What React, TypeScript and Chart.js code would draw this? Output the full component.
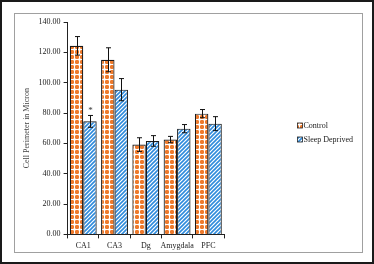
import React, { useEffect, useRef } from "react";
import { Chart, registerables } from "chart.js";
Chart.register(...registerables);

const categories = ["CA1", "CA3", "Dg", "Amygdala", "PFC"];
const controlValues = [124.3, 115.1, 59.2, 62.5, 79.6];
const controlErrors = [6.1, 7.9, 4.5, 2.1, 2.7];
const deprivedValues = [74.5, 95.4, 61.6, 69.7, 73.0];
const deprivedErrors = [3.9, 7.3, 3.5, 2.7, 4.6];
const seriesNames = ["Control", "Sleep Deprived"];
const significance = ["", "", "", "", ""];
const deprivedMarks = ["*", "", "", "", ""];
const yTitle = "Cell Perimeter in Micron";

const SERIF = "'Liberation Serif', 'DejaVu Serif', serif";
const ORANGE = "#ee7a2c";
const BLUE = "#2f8bdc";

function makeDotPattern(): CanvasPattern | string {
  const c = document.createElement("canvas");
  c.width = 5;
  c.height = 5;
  const g = c.getContext("2d");
  if (!g) return ORANGE;
  g.fillStyle = "#ffffff";
  g.fillRect(0, 0, 5, 5);
  g.fillStyle = ORANGE;
  g.fillRect(1, 0, 2, 4);
  g.fillRect(0, 1, 4, 2);
  g.globalAlpha = 0.6;
  g.fillRect(0, 0, 1, 1);
  g.fillRect(3, 0, 1, 1);
  g.fillRect(0, 3, 1, 1);
  g.fillRect(3, 3, 1, 1);
  g.globalAlpha = 1;
  const p = document.createElement("canvas").getContext("2d")!.createPattern(c, "repeat");
  return p || ORANGE;
}

function makeStripePattern(): CanvasPattern | string {
  const s = 4;
  const c = document.createElement("canvas");
  c.width = s;
  c.height = s;
  const g = c.getContext("2d");
  if (!g) return BLUE;
  g.fillStyle = "#ffffff";
  g.fillRect(0, 0, s, s);
  g.strokeStyle = BLUE;
  g.lineWidth = 1.6;
  g.beginPath();
  g.moveTo(-1, s + 1);
  g.lineTo(s + 1, -1);
  g.moveTo(-1, 1);
  g.lineTo(1, -1);
  g.moveTo(s - 1, s + 1);
  g.lineTo(s + 1, s - 1);
  g.stroke();
  const p = document.createElement("canvas").getContext("2d")!.createPattern(c, "repeat");
  return p || BLUE;
}

export default function App() {
  const ref = useRef<HTMLCanvasElement | null>(null);

  useEffect(() => {
    document.body.style.margin = "0";
    const canvas = ref.current;
    if (!canvas) return;
    const dotPat = makeDotPattern();
    const stripePat = makeStripePattern();
    const errors = [controlErrors, deprivedErrors];
    const marks = [significance, deprivedMarks];

    const framePlugin = {
      id: "frame",
      beforeDraw(chart: any) {
        const ctx = chart.ctx;
        ctx.save();
        ctx.fillStyle = "#ffffff";
        ctx.fillRect(0, 0, chart.width, chart.height);
        ctx.strokeStyle = "#1a1a1a";
        ctx.lineWidth = 2;
        ctx.strokeRect(1, 1, chart.width - 2, chart.height - 2);
        ctx.strokeStyle = "#a0a0a0";
        ctx.lineWidth = 1;
        ctx.strokeRect(14.5, 13.5, 348, 239);
        ctx.restore();
      },
    };

    const errorPlugin = {
      id: "errbars",
      afterDatasetsDraw(chart: any) {
        const ctx = chart.ctx;
        const y = chart.scales.y;
        ctx.save();
        ctx.strokeStyle = "#111";
        ctx.lineWidth = 1;
        chart.data.datasets.forEach((ds: any, di: number) => {
          const meta = chart.getDatasetMeta(di);
          meta.data.forEach((bar: any, i: number) => {
            const v = ds.data[i];
            const e = errors[di][i];
            const x = Math.round(bar.x) + 0.5;
            const top = y.getPixelForValue(v + e);
            const bot = y.getPixelForValue(v - e);
            ctx.beginPath();
            ctx.moveTo(x, top);
            ctx.lineTo(x, bot);
            ctx.moveTo(x - 2.5, top);
            ctx.lineTo(x + 2.5, top);
            ctx.moveTo(x - 2.5, bot);
            ctx.lineTo(x + 2.5, bot);
            ctx.stroke();
            const m = marks[di][i];
            if (m) {
              ctx.fillStyle = "#333";
              ctx.font = "9px " + SERIF;
              ctx.textAlign = "center";
              ctx.textBaseline = "middle";
              ctx.fillText(m, x, top - 5);
            }
          });
        });
        ctx.restore();
      },
    };

    const legendPlugin = {
      id: "customLegend",
      afterDraw(chart: any) {
        const ctx = chart.ctx;
        const pats = [dotPat, stripePat];
        const ys = [125.5, 139.5];
        ctx.save();
        ctx.font = "8px " + SERIF;
        ctx.textBaseline = "middle";
        ctx.textAlign = "left";
        seriesNames.forEach((name, i) => {
          ctx.fillStyle = pats[i];
          ctx.fillRect(297.5, ys[i] - 2.5, 5, 5);
          ctx.strokeStyle = "#222";
          ctx.lineWidth = 0.8;
          ctx.strokeRect(297.5, ys[i] - 2.5, 5, 5);
          ctx.fillStyle = "#222";
          ctx.fillText(name, 303.5, ys[i]);
        });
        ctx.restore();
      },
    };

    const chart = new Chart(canvas, {
      type: "bar",
      data: {
        labels: categories,
        datasets: [
          {
            label: seriesNames[0],
            data: controlValues,
            backgroundColor: dotPat as any,
            borderColor: "#1a1a1a",
            borderWidth: 1.2,
            categoryPercentage: 0.86,
            barPercentage: 1,
          },
          {
            label: seriesNames[1],
            data: deprivedValues,
            backgroundColor: stripePat as any,
            borderColor: "#1a1a1a",
            borderWidth: 1.2,
            categoryPercentage: 0.86,
            barPercentage: 1,
          },
        ],
      },
      options: {
        responsive: false,
        animation: false,
        devicePixelRatio: 1,
        layout: { padding: { left: 18, right: 150, top: 22, bottom: 10 } },
        plugins: {
          legend: { display: false },
          tooltip: { enabled: false },
        },
        scales: {
          x: {
            offset: true,
            grid: {
              offset: true,
              drawOnChartArea: false,
              drawTicks: true,
              tickLength: 4,
              color: "#222",
            },
            border: { color: "#222", width: 1 },
            ticks: {
              color: "#222",
              font: { family: SERIF, size: 8 },
              padding: 3,
              maxRotation: 0,
              minRotation: 0,
              autoSkip: false,
            },
          },
          y: {
            min: 0,
            max: 140,
            ticks: {
              stepSize: 20,
              color: "#222",
              font: { family: SERIF, size: 8 },
              padding: 3,
              callback: (v: any) => Number(v).toFixed(2),
            },
            grid: { drawOnChartArea: false, drawTicks: true, tickLength: 4, color: "#222" },
            border: { color: "#222", width: 1 },
            title: {
              display: true,
              text: yTitle,
              color: "#444",
              font: { family: SERIF, size: 8 },
              padding: 4,
            },
          },
        },
      },
      plugins: [framePlugin, errorPlugin, legendPlugin],
    });
    return () => chart.destroy();
  }, []);

  return (
    <div style={{ width: 374, height: 264 }}>
      <canvas ref={ref} width={374} height={264} style={{ display: "block" }} />
    </div>
  );
}
